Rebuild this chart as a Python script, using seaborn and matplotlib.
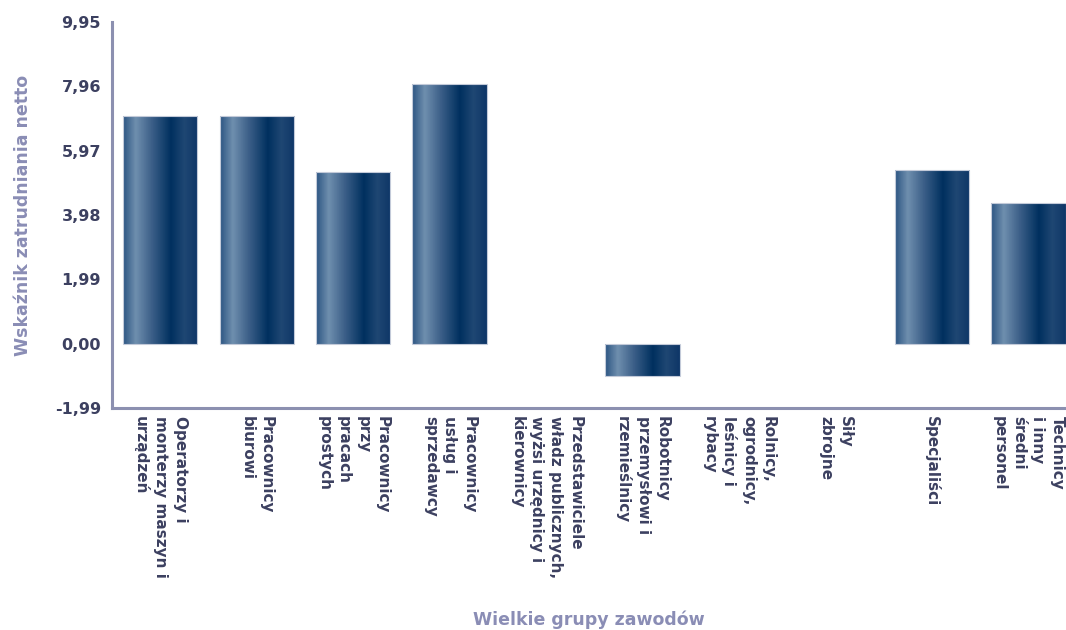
import numpy as np
import pandas as pd
import matplotlib
matplotlib.use("Agg")
import matplotlib.pyplot as plt
from matplotlib.colors import LinearSegmentedColormap
from matplotlib.ticker import FuncFormatter
import seaborn as sns

categories = [
    "Operatorzy i\nmonterzy maszyn i\nurządzeń",
    "Pracownicy\nbiurowi",
    "Pracownicy\nprzy\npracach\nprostych",
    "Pracownicy\nusług i\nsprzedawcy",
    "Przedstawiciele\nwładz publicznych,\nwyżsi urzędnicy i\nkierownicy",
    "Robotnicy\nprzemysłowi i\nrzemieślnicy",
    "Rolnicy,\nogrodnicy,\nleśnicy i\nrybacy",
    "Siły\nzbrojne",
    "Specjaliści",
    "Technicy\ni inny\nśredni\npersonel",
]
values = [7.04, 7.04, 5.32, 8.03, 0.0, -1.0, 0.0, 0.0, 5.37, 4.34]
yticks = [-1.99, 0.00, 1.99, 3.98, 5.97, 7.96, 9.95]

sns.set_theme(style="white")
plt.rcParams["font.family"] = ["DejaVu Sans"]

df = pd.DataFrame({"grupa": categories, "wartosc": values})

fig = plt.figure(figsize=(10.66, 6.30), dpi=100)
ax = fig.add_axes([112 / 1066, 1 - 408 / 630, 1 - 112 / 1066, (408 - 22) / 630])

sns.barplot(data=df, x="grupa", y="wartosc", order=categories, ax=ax,
            width=0.77, color="#1e4a75", errorbar=None, saturation=1)

cmap = LinearSegmentedColormap.from_list("bar", [
    (0.00, "#2c5582"),
    (0.17, "#6f8fae"),
    (0.38, "#3d6089"),
    (0.64, "#00305f"),
    (0.82, "#1f4773"),
    (1.00, "#0e3667"),
])
grad = np.tile(np.linspace(0, 1, 256), (8, 1))
for p in list(ax.patches):
    h = p.get_height()
    if abs(h) < 1e-9:
        p.set_visible(False)
        continue
    x0 = p.get_x()
    w = p.get_width()
    y0 = p.get_y()
    ylo, yhi = min(y0, y0 + h), max(y0, y0 + h)
    im = ax.imshow(grad, cmap=cmap, extent=[x0, x0 + w, ylo, yhi],
                   aspect="auto", zorder=2, interpolation="nearest")
    im.set_clip_path(p)
    p.set_facecolor("none")
    p.set_edgecolor("#c3cad9")
    p.set_linewidth(0.8)
    p.set_zorder(3)

ax.set_xlim(-0.5, 9.39)
ax.set_ylim(-1.99, 9.95)
ax.set_yticks(yticks)
ax.yaxis.set_major_formatter(FuncFormatter(lambda v, pos: f"{v:.2f}".replace(".", ",")))

for s in ["top", "right"]:
    ax.spines[s].set_visible(False)
for s in ["left", "bottom"]:
    ax.spines[s].set_color("#8c90b0")
    ax.spines[s].set_linewidth(2.2)
    ax.spines[s].set_zorder(4)

ax.tick_params(axis="both", length=0)
ax.tick_params(axis="y", pad=8, labelsize=11.5, labelcolor="#3c4060")
ax.tick_params(axis="x", pad=6, labelsize=11, labelcolor="#3c4060")
for lab in ax.get_yticklabels():
    lab.set_fontweight("bold")
for lab in ax.get_xticklabels():
    lab.set_rotation(270)
    lab.set_fontweight("bold")
    lab.set_ha("center")
    lab.set_va("top")
    lab.set_multialignment("left")
    lab.set_linespacing(1.35)

ax.set_xlabel("Wielkie grupy zawodów", fontsize=12.5, fontweight="bold", color="#8a8db5")
ax.xaxis.set_label_coords(0.5, -0.525)
ax.set_ylabel("Wskaźnik zatrudniania netto", fontsize=12.5, fontweight="bold", color="#8a8db5")
ax.yaxis.set_label_coords(-0.084, 0.5)

fig.savefig("out.png", dpi=100)
